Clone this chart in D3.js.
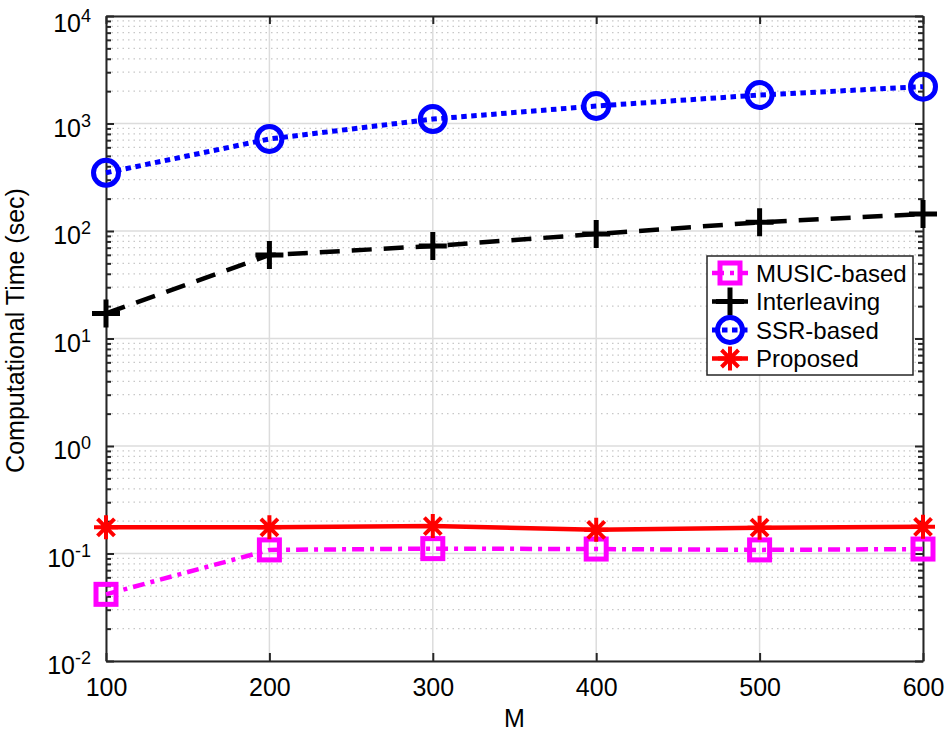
<!DOCTYPE html>
<html>
<head>
<meta charset="utf-8">
<script src="https://cdn.jsdelivr.net/npm/d3@7"></script>
<style>
  body { margin: 0; background: #fff; }
  svg text { font-family: "Liberation Sans", Arial, sans-serif; fill: #000; }
</style>
</head>
<body>
<svg width="945" height="736"></svg>
<script>
// values
var M = [100, 200, 300, 400, 500, 600];
var music = [0.0417, 0.108, 0.111, 0.110, 0.108, 0.110];
var interleaving = [17.1, 59.8, 72.5, 93.8, 120.5, 144];
var ssr = [348, 718, 1100, 1455, 1841, 2200];
var proposed = [0.175, 0.175, 0.180, 0.166, 0.174, 0.177];
var seriesNames = ["MUSIC-based", "Interleaving", "SSR-based", "Proposed"];
var yExponents = [-2, -1, 0, 1, 2, 3, 4];

var svg = d3.select("svg");
var MARGIN = {top: 16, right: 22, bottom: 75, left: 106};
var WIDTH = svg.attr("width") - MARGIN.left - MARGIN.right;
var HEIGHT = svg.attr("height") - MARGIN.top - MARGIN.bottom;

var x = d3.scaleLinear().domain([100, 600]).range([0, WIDTH]);
var y = d3.scaleLog().domain([1e-2, 1e4]).range([HEIGHT, 0]);

var g = svg.append("g")
    .attr("transform", "translate(" + MARGIN.left + "," + MARGIN.top + ")");

// minor ticks for log axis
var minor = [];
yExponents.slice(0, -1).forEach(function(e) {
    for (var k = 2; k <= 9; k++) minor.push(k * Math.pow(10, e));
});
var major = yExponents.map(e => Math.pow(10, e));

// grid
g.selectAll(".minor-grid").data(minor).enter().append("line")
    .attr("x1", 0).attr("x2", WIDTH)
    .attr("y1", d => y(d)).attr("y2", d => y(d))
    .attr("stroke", "#c8c8c8").attr("stroke-width", 1.3)
    .attr("stroke-dasharray", "1.5,4");
g.selectAll(".major-grid").data(major).enter().append("line")
    .attr("x1", 0).attr("x2", WIDTH)
    .attr("y1", d => y(d)).attr("y2", d => y(d))
    .attr("stroke", "#dcdcdc").attr("stroke-width", 1.5);
g.selectAll(".x-grid").data(M).enter().append("line")
    .attr("x1", d => x(d)).attr("x2", d => x(d))
    .attr("y1", 0).attr("y2", HEIGHT)
    .attr("stroke", "#dcdcdc").attr("stroke-width", 1.5);

// axes with inward ticks (left, right, top, bottom)
function styleAxis(sel) {
    sel.selectAll("path").attr("stroke", "#262626").attr("stroke-width", 2);
    sel.selectAll("line").attr("stroke", "#262626").attr("stroke-width", 2);
}
var xAxis = g.append("g")
    .attr("transform", "translate(0," + HEIGHT + ")")
    .call(d3.axisBottom(x).tickValues(M).tickSizeInner(-8).tickSizeOuter(0).tickPadding(17));
xAxis.selectAll("text").attr("font-size", 25);
styleAxis(xAxis);
var xTop = g.append("g")
    .call(d3.axisTop(x).tickValues(M).tickSizeInner(-8).tickSizeOuter(0).tickFormat(""));
styleAxis(xTop);

var yAxis = g.append("g")
    .call(d3.axisLeft(y).tickValues(major).tickSizeInner(-8).tickSizeOuter(0).tickFormat(""));
styleAxis(yAxis);
var yAxisMinor = g.append("g")
    .call(d3.axisLeft(y).tickValues(minor).tickSizeInner(-5).tickSizeOuter(0).tickFormat(""));
yAxisMinor.select("path").remove();
styleAxis(yAxisMinor);
var yRight = g.append("g").attr("transform", "translate(" + WIDTH + ",0)")
    .call(d3.axisRight(y).tickValues(major).tickSizeInner(-8).tickSizeOuter(0).tickFormat(""));
styleAxis(yRight);
var yRightMinor = g.append("g").attr("transform", "translate(" + WIDTH + ",0)")
    .call(d3.axisRight(y).tickValues(minor).tickSizeInner(-5).tickSizeOuter(0).tickFormat(""));
yRightMinor.select("path").remove();
styleAxis(yRightMinor);

// y tick labels 10^e (top one nudged down so it stays inside)
var ylab = g.selectAll(".ylab").data(yExponents).enter().append("text")
    .attr("x", -15).attr("y", e => Math.max(y(Math.pow(10, e)) + 13, 16))
    .attr("text-anchor", "end").attr("font-size", 25);
ylab.append("tspan").text("10");
ylab.append("tspan").attr("dy", -10).attr("font-size", 18).text(e => e);

// axis titles
g.append("text")
    .attr("x", WIDTH / 2).attr("y", HEIGHT + 66)
    .attr("text-anchor", "middle").attr("font-size", 25).text("M");
g.append("text")
    .attr("transform", "rotate(-90)")
    .attr("x", -HEIGHT / 2 + 8).attr("y", -82)
    .attr("text-anchor", "middle").attr("font-size", 25)
    .text("Computational Time (sec)");

// series
var series = [
    {name: seriesNames[0], values: music, color: "#ff00ff", dash: "12,6,4,6", width: 4.5, marker: "square"},
    {name: seriesNames[1], values: interleaving, color: "#000000", dash: "20,12", width: 4.5, marker: "plus"},
    {name: seriesNames[2], values: ssr, color: "#0000ff", dash: "5.5,4.5", width: 5, marker: "circle"},
    {name: seriesNames[3], values: proposed, color: "#ff0000", dash: null, width: 4.5, marker: "star"}
];

var line = d3.line()
    .x(d => x(d.m))
    .y(d => y(d.v));

function drawMarker(sel, type, color) {
    if (type === "square") {
        sel.append("rect").attr("x", -10).attr("y", -10).attr("width", 20).attr("height", 20)
            .attr("fill", "none").attr("stroke", color).attr("stroke-width", 5);
    } else if (type === "plus") {
        sel.append("path").attr("d", "M-14,0H14M0,-14V14")
            .attr("stroke", color).attr("stroke-width", 5).attr("fill", "none");
    } else if (type === "circle") {
        sel.append("circle").attr("r", 12.5)
            .attr("fill", "none").attr("stroke", color).attr("stroke-width", 5);
    } else if (type === "star") {
        var r = 12, a = 0.707 * r;
        sel.append("path")
            .attr("d", "M0,-" + r + "V" + r + "M-" + r + ",0H" + r +
                "M-" + a + ",-" + a + "L" + a + "," + a +
                "M-" + a + "," + a + "L" + a + ",-" + a)
            .attr("stroke", color).attr("stroke-width", 4).attr("fill", "none");
    }
}

series.forEach(function(s) {
    var pts = M.map((m, i) => ({m: m, v: s.values[i]}));
    g.append("path")
        .datum(pts)
        .attr("fill", "none")
        .attr("stroke", s.color)
        .attr("stroke-width", s.width)
        .attr("stroke-dasharray", s.dash)
        .attr("d", line);
    g.selectAll(null).data(pts).enter().append("g")
        .attr("transform", d => "translate(" + x(d.m) + "," + y(d.v) + ")")
        .each(function() { drawMarker(d3.select(this), s.marker, s.color); });
});

// legend
var legend = svg.append("g").attr("transform", "translate(707,256)");
legend.append("rect").attr("width", 206).attr("height", 119)
    .attr("fill", "#fff").attr("stroke", "#262626").attr("stroke-width", 1.5);
series.forEach(function(s, i) {
    var row = legend.append("g").attr("transform", "translate(0," + (17 + i * 28.5) + ")");
    row.append("line").attr("x1", 5).attr("x2", 41)
        .attr("stroke", s.color).attr("stroke-width", s.width)
        .attr("stroke-dasharray", s.dash);
    var mk = row.append("g").attr("transform", "translate(23,0)");
    drawMarker(mk, s.marker, s.color);
    row.append("text").attr("x", 49).attr("y", 8.5).attr("font-size", 24).text(s.name);
});
</script>
</body>
</html>
